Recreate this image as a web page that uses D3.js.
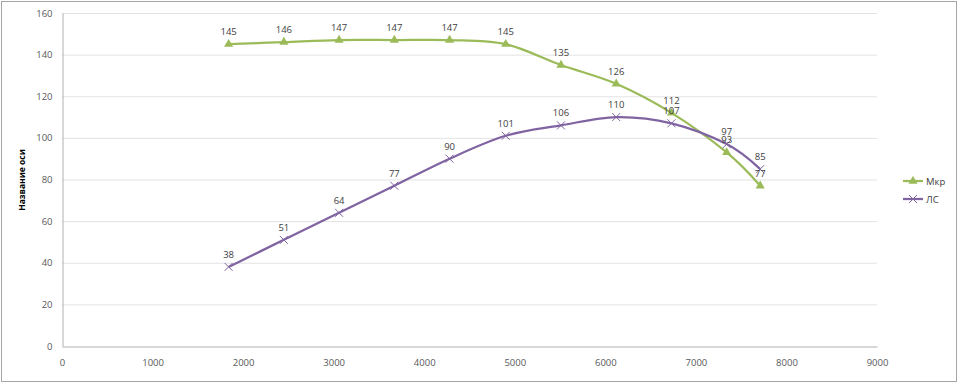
<!DOCTYPE html>
<html>
<head>
<meta charset="utf-8">
<script src="https://cdn.jsdelivr.net/npm/d3@7"></script>
<style>
body { margin: 0; background: #fff; }
svg text { font-family: "Open Sans", "DejaVu Sans", sans-serif; }
</style>
</head>
<body>
<svg id="chart" width="960" height="385"></svg>
<script>
// обороты двигателя
let rpm = [1840, 2450, 3060, 3670, 4280, 4900, 5510, 6120, 6730, 7340, 7710];
let mkr = [145, 146, 147, 147, 147, 145, 135, 126, 112, 93, 77];
let ls = [38, 51, 64, 77, 90, 101, 106, 110, 107, 97, 85];
let xTicks = [0, 1000, 2000, 3000, 4000, 5000, 6000, 7000, 8000, 9000];
let yTicks = [0, 20, 40, 60, 80, 100, 120, 140, 160];
let seriesNames = ["Мкр", "ЛС"];
let seriesColors = ["#9bbb59", "#8064a2"];

let svg = d3.select('#chart');

// рамка
svg.append('rect')
  .attr('x', 1.5).attr('y', 1.5)
  .attr('width', 955).attr('height', 380)
  .attr('fill', '#fff')
  .attr('stroke', '#a6a6a6')
  .attr('stroke-width', 1);

let x = d3.scaleLinear().domain([0, 9000]).range([62, 877]);
let y = d3.scaleLinear().domain([0, 160]).range([346, 13]);

// сетка
svg.append('g')
  .selectAll('line')
  .data(yTicks.slice(1))
  .enter()
  .append('line')
  .attr('x1', 62).attr('x2', 877)
  .attr('y1', d => y(d) + 0.5).attr('y2', d => y(d) + 0.5)
  .attr('stroke', '#e3e3e3');

let yAxis = svg.append('g')
  .attr('transform', 'translate(62.5,0)')
  .call(d3.axisLeft(y).tickValues(yTicks).tickSize(0).tickPadding(10));
let xAxis = svg.append('g')
  .attr('transform', 'translate(0,346.5)')
  .call(d3.axisBottom(x).tickValues(xTicks).tickSize(0).tickPadding(13).tickFormat(d3.format('d')));

for (let ax of [xAxis, yAxis]) {
  ax.select('.domain').attr('stroke', '#b0b0b0').attr('stroke-width', 1);
  ax.selectAll('text').attr('font-size', 9.5).attr('fill', '#595959');
}

svg.append('text')
  .attr('transform', 'translate(25,180) rotate(-90)')
  .attr('text-anchor', 'middle')
  .attr('font-size', 8.5)
  .attr('font-weight', 'bold')
  .attr('fill', '#000')
  .text('Название оси');

let line = d3.line()
  .x(d => x(d[0]))
  .y(d => y(d[1]))
  .curve(d3.curveCatmullRom.alpha(0));

let triangle = d3.symbol().type(d3.symbolTriangle).size(36);

function drawSeries(vals, color, marker) {
  let pts = rpm.map((r, i) => [r, vals[i]]);
  let g = svg.append('g');
  g.append('path')
    .attr('d', line(pts))
    .attr('fill', 'none')
    .attr('stroke', color)
    .attr('stroke-width', 2.25);
  let m = g.selectAll('g.pt')
    .data(pts)
    .enter()
    .append('g')
    .attr('transform', d => 'translate(' + x(d[0]) + ',' + y(d[1]) + ')');
  if (marker === 'tri') {
    m.append('path').attr('d', triangle).attr('fill', color);
  } else {
    m.append('path').attr('d', 'M-4,-4L4,4M-4,4L4,-4')
      .attr('stroke', color).attr('stroke-width', 1);
  }
  return pts;
}

let p1 = drawSeries(mkr, seriesColors[0], 'tri');
let p2 = drawSeries(ls, seriesColors[1], 'x');

// подписи данных
for (let pts of [p1, p2]) {
  svg.append('g')
    .selectAll('text')
    .data(pts)
    .enter()
    .append('text')
    .attr('x', d => x(d[0]))
    .attr('y', d => y(d[1]) - 9)
    .attr('text-anchor', 'middle')
    .attr('font-size', 9.5)
    .attr('fill', '#404040')
    .text(d => d[1]);
}

// легенда
let leg = svg.append('g').attr('transform', 'translate(903,181)');
seriesNames.forEach((name, i) => {
  let g = leg.append('g').attr('transform', 'translate(0,' + i * 18 + ')');
  g.append('line').attr('x1', 0).attr('x2', 20).attr('stroke', seriesColors[i]).attr('stroke-width', 2.25);
  if (i === 0) {
    g.append('path').attr('transform', 'translate(10,0)').attr('d', triangle).attr('fill', seriesColors[i]);
  } else {
    g.append('path').attr('d', 'M6,-4L14,4M6,4L14,-4').attr('stroke', seriesColors[i]).attr('stroke-width', 1);
  }
  g.append('text').attr('x', 23).attr('y', 3.5)
    .attr('font-size', 9.5).attr('fill', '#404040').text(name);
});
</script>
</body>
</html>
